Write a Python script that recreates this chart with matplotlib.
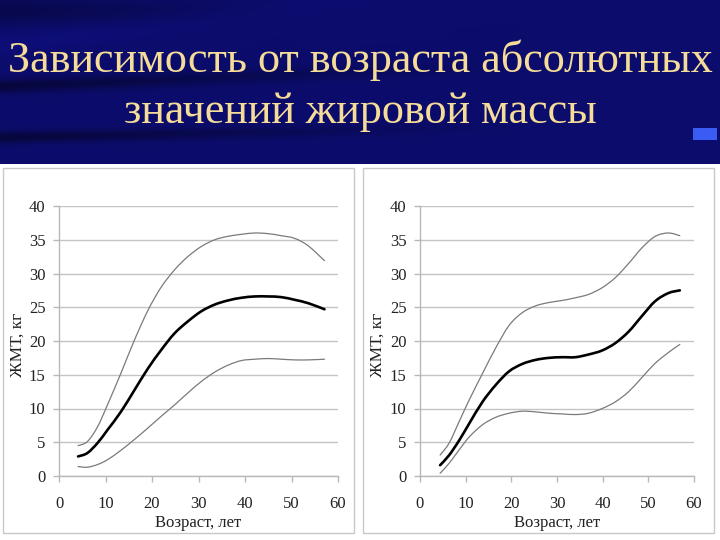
import numpy as np
import matplotlib
matplotlib.use("Agg")
import matplotlib.pyplot as plt
from matplotlib.path import Path
from matplotlib.patches import PathPatch, Rectangle

# ---------------- data ----------------
title_lines = ["Зависимость от возраста абсолютных", "значений жировой массы"]
x_label = "Возраст, лет"
y_label = "ЖМТ, кг"
x_ticks = [0, 10, 20, 30, 40, 50, 60]
y_ticks = [0, 5, 10, 15, 20, 25, 30, 35, 40]

left_age = [4.1, 6.1, 8.3, 10.4, 13.3, 16.2, 19.1, 21.9, 24.8, 27.7,
            30.6, 33.5, 36.3, 39.2, 42.1, 45.0, 47.8, 50.7, 53.6, 57.1]
left_mid = [2.9, 3.4, 4.9, 6.8, 9.5, 12.7, 15.9, 18.6, 21.1, 22.9,
            24.4, 25.4, 26.0, 26.4, 26.6, 26.6, 26.5, 26.1, 25.6, 24.7]
left_hi = [4.5, 5.1, 7.3, 10.5, 15.2, 20.1, 24.5, 27.9, 30.5, 32.5,
           34.0, 35.0, 35.5, 35.8, 36.0, 35.9, 35.6, 35.2, 34.1, 31.9]
left_lo = [1.4, 1.3, 1.7, 2.4, 3.8, 5.4, 7.1, 8.8, 10.5, 12.3,
           14.0, 15.4, 16.4, 17.1, 17.3, 17.4, 17.3, 17.2, 17.2, 17.3]

right_age = [4.4, 6.4, 8.6, 10.8, 13.7, 16.6, 19.5, 22.4, 25.3, 28.2,
             31.1, 34.0, 36.9, 39.9, 42.8, 45.7, 48.6, 51.5, 54.4, 56.9]
right_mid = [1.6, 3.1, 5.3, 7.8, 11.0, 13.5, 15.5, 16.6, 17.2, 17.5,
             17.6, 17.6, 18.0, 18.6, 19.7, 21.4, 23.7, 25.9, 27.1, 27.5]
right_hi = [3.1, 4.9, 8.1, 11.3, 15.2, 19.0, 22.3, 24.2, 25.2, 25.7,
            26.0, 26.4, 26.9, 27.9, 29.4, 31.5, 33.8, 35.5, 36.0, 35.6]
right_lo = [0.4, 1.9, 3.9, 5.8, 7.6, 8.7, 9.3, 9.6, 9.5, 9.3,
            9.2, 9.1, 9.3, 10.0, 11.0, 12.5, 14.6, 16.7, 18.3, 19.5]

# ---------------- styling ----------------
SERIF = ["Liberation Serif", "DejaVu Serif"]
plt.rcParams["font.family"] = SERIF

fig = plt.figure(figsize=(7.2, 5.4), dpi=100)
fig.patch.set_facecolor("white")

W, H = 720, 540

# navy slide header background (decorative gradient)
hdr_h = 164
bg = fig.add_axes([0, 1 - hdr_h / H, 1, hdr_h / H], zorder=-10)
bg.set_axis_off()
yy, xx = np.mgrid[0:hdr_h, 0:W].astype(float)
base = np.array([12, 12, 108], float) / 255.0
shade = np.ones_like(xx)
fade = np.clip(1 - xx / 520.0, 0, 1)
shade -= 0.45 * fade * np.exp(-((yy - (86 - xx * 0.04)) / 7.0) ** 2)
shade -= 0.45 * fade * np.exp(-((yy - (137 - xx * 0.02)) / 6.0) ** 2)
shade -= 0.30 * np.clip(1 - xx / 300.0, 0, 1) * np.exp(-((yy - 10) / 14.0) ** 2)
shade += 0.12 * np.exp(-((yy - (45 - xx * 0.12)) / 12.0) ** 2) * np.clip(1 - xx / 450, 0, 1)
img = np.clip(base[None, None, :] * shade[:, :, None], 0, 1)
bg.imshow(img, aspect="auto", extent=[0, W, hdr_h, 0])
bg.add_patch(Rectangle((693, 128), 24, 12, color="#3a5cf5", lw=0))
bg.set_xlim(0, W)
bg.set_ylim(hdr_h, 0)

# title
for txt, yb in zip(title_lines, [72, 123]):
    fig.text(0.5, 1 - yb / H, txt, ha="center", va="baseline",
             fontsize=31.8, color="#F5DC98", family=SERIF, zorder=5)

# white chart panels with light gray border (drawn beneath the axes)
for x0, x1 in [(3, 354), (363, 714)]:
    fig.add_artist(Rectangle((x0 / W, 1 - 533 / H), (x1 - x0) / W, (533 - 168) / H,
                             transform=fig.transFigure, facecolor="white",
                             edgecolor="#c8c8c8", lw=1.0, zorder=-5))


def smooth_path(xs, ys):
    pts = np.column_stack([xs, ys]).astype(float)
    n = len(pts)
    verts = [pts[0]]
    codes = [Path.MOVETO]
    for i in range(n - 1):
        p0 = pts[i - 1] if i > 0 else pts[i]
        p1 = pts[i]
        p2 = pts[i + 1]
        p3 = pts[i + 2] if i + 2 < n else pts[i + 1]
        c1 = p1 + (p2 - p0) / 6.0
        c2 = p2 - (p3 - p1) / 6.0
        verts += [c1, c2, p2]
        codes += [Path.CURVE4] * 3
    return Path(verts, codes)


def make_axes(rect, age, lo, mid, hi, ylab_x):
    ax = fig.add_axes(rect, zorder=2)
    ax.patch.set_alpha(0)
    ax.set_xlim(0, 60)
    ax.set_ylim(0, 40)
    ax.set_xticks(x_ticks)
    ax.set_yticks(y_ticks)
    ax.grid(axis="y", color="#c4c4c4", lw=1.0)
    ax.set_axisbelow(True)
    for s in ["top", "right"]:
        ax.spines[s].set_visible(False)
    for s in ["left", "bottom"]:
        ax.spines[s].set_color("#b8b8b8")
        ax.spines[s].set_linewidth(1.0)
    ax.tick_params(direction="out", length=4.3, width=1, color="#b8b8b8",
                   labelsize=12, labelcolor="#222222")
    ax.tick_params(axis="x", pad=10)
    ax.tick_params(axis="y", pad=5.5)
    for t in ax.get_xticklabels() + ax.get_yticklabels():
        t.set_family(SERIF)
    for ys, lw, col in [(hi, 0.9, "#7a7a7a"), (lo, 0.9, "#7a7a7a"), (mid, 1.9, "#000000")]:
        ax.add_patch(PathPatch(smooth_path(age, ys), fill=False, lw=lw,
                               edgecolor=col, capstyle="round", joinstyle="round"))
    ax.set_xlabel(x_label, fontsize=12, color="#222222", family=SERIF)
    ax.set_ylabel(y_label, fontsize=12.5, color="#222222", family=SERIF)
    ax.xaxis.set_label_coords(0.5, -0.143)
    ax.yaxis.set_label_coords(ylab_x, 0.485)
    return ax


ax_bottom = 1 - 476 / H
ax_h = 270 / H
make_axes([59 / W, ax_bottom, 279 / W, ax_h], left_age, left_lo, left_mid, left_hi, -0.118)
make_axes([420 / W, ax_bottom, 274 / W, ax_h], right_age, right_lo, right_mid, right_hi, -0.124)

fig.savefig("out.png", dpi=100, facecolor=fig.get_facecolor())
